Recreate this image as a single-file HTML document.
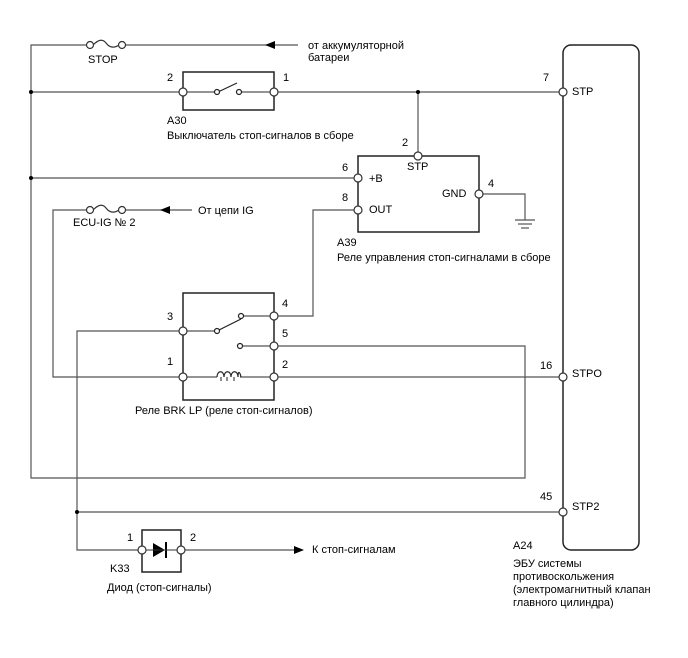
<!DOCTYPE html>
<html><head><meta charset="utf-8"><style>
html,body{margin:0;padding:0;background:#fff;}
svg{display:block;}
text{font-family:"Liberation Sans",sans-serif;font-size:11px;fill:#000;}
</style></head><body>
<svg width="688" height="658" viewBox="0 0 688 658" xmlns="http://www.w3.org/2000/svg">
<g fill="none" stroke="#555" stroke-width="1.2">
<!-- left rail -->
<polyline points="298,45 125,45"/>
<polyline points="87,45 31,45 31,478 525,478 525,346 274,346"/>
<!-- A30 row -->
<line x1="31" y1="92" x2="183" y2="92"/>
<line x1="183" y1="92" x2="215" y2="92"/>
<line x1="241" y1="92" x2="274" y2="92"/>
<line x1="274" y1="92" x2="563" y2="92"/>
<line x1="418" y1="92" x2="418" y2="156"/>
<!-- +B -->
<line x1="31" y1="178" x2="358" y2="178"/>
<!-- OUT -->
<polyline points="358,210 313,210 313,316 274,316"/>
<!-- GND -->
<polyline points="479,194 525,194 525,220"/>
<line x1="515" y1="220" x2="535" y2="220"/>
<line x1="518" y1="224" x2="532" y2="224"/>
<line x1="521" y1="228" x2="529" y2="228"/>
<!-- ECU-IG -->
<polyline points="192,210 125,210"/>
<polyline points="87,210 53,210 53,377 183,377"/>
<!-- relay internal -->
<line x1="183" y1="331" x2="215" y2="331"/>
<line x1="243" y1="316" x2="274" y2="316"/>
<line x1="243" y1="346" x2="274" y2="346"/>
<line x1="183" y1="377" x2="217" y2="377"/>
<line x1="240" y1="377" x2="274" y2="377"/>
<line x1="274" y1="377" x2="563" y2="377"/>
<!-- pin3 -->
<polyline points="183,331 77,331 77,550 142,550"/>
<line x1="77" y1="512" x2="563" y2="512"/>
<line x1="181" y1="550" x2="296" y2="550"/>
</g>
<!-- boxes -->
<g fill="none" stroke="#222" stroke-width="1.5">
<rect x="183" y="72" width="91" height="38"/>
<rect x="358" y="156" width="121" height="76"/>
<rect x="183" y="293" width="91" height="107"/>
<rect x="142" y="530" width="39" height="42"/>
<rect x="563" y="45" width="76" height="505" rx="8"/>
</g>
<!-- switch A30 -->
<g stroke="#222" stroke-width="1.2" fill="#fff">
<line x1="218" y1="92" x2="237" y2="83"/>
<circle cx="217" cy="92" r="2.5"/><circle cx="239" cy="92" r="2.5"/>
<line x1="217" y1="331" x2="241" y2="319"/>
<circle cx="217" cy="331" r="2.5"/><circle cx="241" cy="316" r="2.5"/><circle cx="240" cy="346" r="2.5"/>
</g>
<!-- coil -->
<path d="M217,377 c0,-7 7,-7 7,0 c0,-7 7,-7 7,0 c0,-7 7,-7 7,0 c0,-7 2,-5 3,0" fill="none" stroke="#222" stroke-width="1.2"/>
<path d="M221,377 v4 M227,377 v4 M234,377 v4" stroke="#222" stroke-width="1"/>
<!-- fuses -->
<g fill="none" stroke="#333" stroke-width="1.2">
<path d="M93,45 c6,-6 10,-6 13,-2 c3,4 7,6 13,2"/>
<path d="M93,210 c6,-6 10,-6 13,-2 c3,4 7,6 13,2"/>
</g>
<g fill="#fff" stroke="#333" stroke-width="1.2">
<circle cx="90" cy="45" r="3.5"/><circle cx="122" cy="45" r="3.5"/>
<circle cx="90" cy="210" r="3.5"/><circle cx="122" cy="210" r="3.5"/>
</g>
<!-- arrows -->
<g fill="#000">
<polygon points="265,45 275,41 275,49"/>
<polygon points="160,210 170,206 170,214"/>
<polygon points="304,550 294,546 294,554"/>
<!-- diode -->
<polygon points="153,543 153,557 165,550"/>
<rect x="165" y="542" width="2" height="16"/>
<line x1="142" y1="550" x2="181" y2="550" stroke="#333"/>
</g>
<!-- dots -->
<g fill="#000">
<circle cx="31" cy="92" r="2"/><circle cx="31" cy="178" r="2"/>
<circle cx="418" cy="92" r="2"/><circle cx="77" cy="512" r="2"/>
</g>
<!-- terminals -->
<g fill="#fff" stroke="#333" stroke-width="1.2">
<circle cx="183" cy="92" r="4"/><circle cx="274" cy="92" r="4"/>
<circle cx="418" cy="156" r="4"/><circle cx="358" cy="178" r="4"/><circle cx="358" cy="210" r="4"/><circle cx="479" cy="194" r="4"/>
<circle cx="183" cy="331" r="4"/><circle cx="274" cy="316" r="4"/><circle cx="274" cy="346" r="4"/>
<circle cx="183" cy="377" r="4"/><circle cx="274" cy="377" r="4"/>
<circle cx="142" cy="550" r="4"/><circle cx="181" cy="550" r="4"/>
<circle cx="563" cy="92" r="4"/><circle cx="563" cy="377" r="4"/><circle cx="563" cy="512" r="4"/>
</g>
<!-- labels -->
<text x="308" y="49">от аккумуляторной</text>
<text x="308" y="61">батареи</text>
<text x="88" y="63">STOP</text>
<text x="167" y="81">2</text><text x="283" y="81">1</text>
<text x="167" y="124">A30</text>
<text x="167" y="139">Выключатель стоп-сигналов в сборе</text>
<text x="543" y="81">7</text><text x="572" y="95">STP</text>
<text x="402" y="146">2</text><text x="407" y="170">STP</text>
<text x="342" y="171">6</text><text x="369" y="182">+B</text>
<text x="342" y="201">8</text><text x="369" y="213">OUT</text>
<text x="442" y="197">GND</text><text x="488" y="187">4</text>
<text x="337" y="246">A39</text>
<text x="337" y="261">Реле управления стоп-сигналами в сборе</text>
<text x="73" y="226">ECU-IG № 2</text>
<text x="198" y="214">От цепи IG</text>
<text x="167" y="320">3</text><text x="282" y="307">4</text>
<text x="282" y="337">5</text><text x="167" y="365">1</text><text x="282" y="368">2</text>
<text x="135" y="414">Реле BRK LP (реле стоп-сигналов)</text>
<text x="540" y="369">16</text><text x="572" y="377">STPO</text>
<text x="540" y="500">45</text><text x="572" y="510">STP2</text>
<text x="127" y="541">1</text><text x="190" y="541">2</text>
<text x="110" y="572">K33</text>
<text x="107" y="591">Диод (стоп-сигналы)</text>
<text x="312" y="553">К стоп-сигналам</text>
<text x="513" y="549">A24</text>
<text x="513" y="567">ЭБУ системы</text>
<text x="513" y="580">противоскольжения</text>
<text x="513" y="593">(электромагнитный клапан</text>
<text x="513" y="606">главного цилиндра)</text>
</svg>
</body></html>
